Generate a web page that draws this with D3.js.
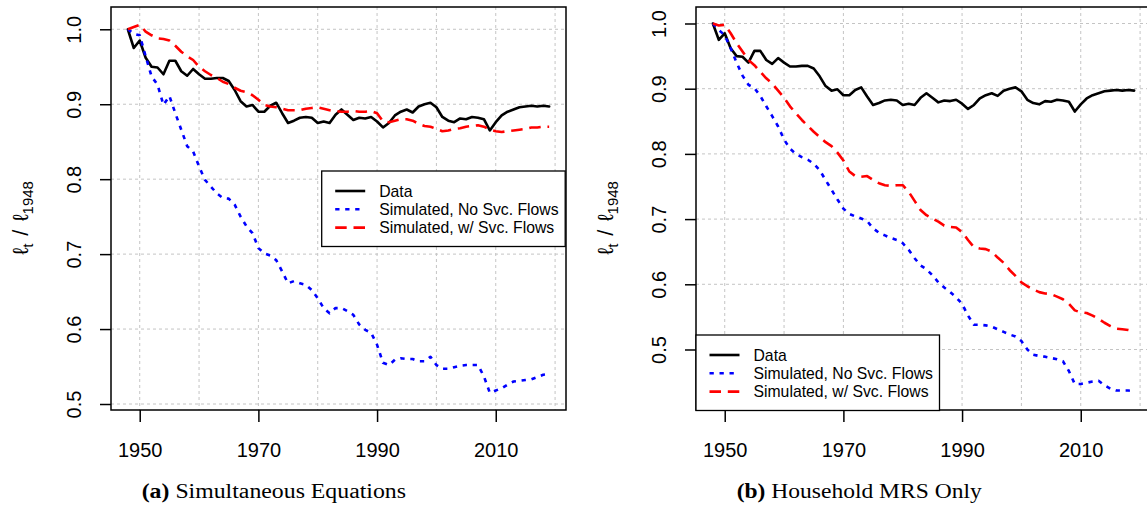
<!DOCTYPE html>
<html><head><meta charset="utf-8">
<script src="https://cdn.jsdelivr.net/npm/d3@7"></script>
<style>body{margin:0;background:#fff} svg{display:block}</style>
</head><body><svg id="chart" width="1147" height="508"></svg>
<script>
// ---------- data ----------
const years = [1948,1949,1950,1951,1952,1953,1954,1955,1956,1957,1958,1959,
  1960,1961,1962,1963,1964,1965,1966,1967,1968,1969,1970,1971,1972,1973,1974,1975,
  1976,1977,1978,1979,1980,1981,1982,1983,1984,1985,1986,1987,1988,1989,1990,1991,
  1992,1993,1994,1995,1996,1997,1998,1999,2000,2001,2002,2003,2004,2005,2006,2007,
  2008,2009,2010,2011,2012,2013,2014,2015,2016,2017,2018,2019];

const dataSeries = [1.000,0.975,0.985,0.962,0.950,0.949,0.940,0.958,0.958,0.944,0.938,0.947,
  0.940,0.934,0.934,0.935,0.935,0.931,0.919,0.904,0.897,0.899,0.890,0.890,0.898,0.902,0.888,0.875,
  0.878,0.882,0.883,0.882,0.875,0.877,0.875,0.886,0.893,0.886,0.879,0.882,0.881,0.883,0.877,0.869,
  0.875,0.885,0.890,0.893,0.889,0.897,0.900,0.902,0.896,0.883,0.878,0.876,0.881,0.880,0.883,0.882,
  0.880,0.865,0.876,0.885,0.890,0.893,0.896,0.897,0.898,0.897,0.898,0.897];

// Panel (a): Simultaneous Equations
const simNoSvcA = [1.000,0.994,0.992,0.964,0.937,0.926,0.899,0.911,0.888,0.866,0.844,0.837,
  0.817,0.799,0.790,0.781,0.775,0.774,0.766,0.750,0.737,0.728,0.708,0.701,0.698,0.692,0.677,0.661,
  0.664,0.661,0.659,0.652,0.641,0.628,0.621,0.628,0.628,0.624,0.619,0.606,0.599,0.595,0.579,0.555,
  0.552,0.559,0.561,0.560,0.560,0.557,0.557,0.563,0.552,0.547,0.547,0.549,0.551,0.552,0.552,0.552,
  0.537,0.515,0.518,0.521,0.526,0.530,0.531,0.532,0.533,0.536,0.539,0.540];
const simSvcA = [1.000,1.003,1.006,0.997,0.992,0.988,0.987,0.985,0.978,0.970,0.964,0.959,
  0.950,0.944,0.939,0.935,0.930,0.927,0.922,0.918,0.916,0.912,0.906,0.899,0.897,0.896,0.894,0.892,
  0.892,0.892,0.894,0.895,0.896,0.894,0.892,0.891,0.890,0.890,0.891,0.890,0.890,0.891,0.888,0.877,
  0.876,0.878,0.880,0.880,0.878,0.874,0.871,0.870,0.867,0.864,0.865,0.867,0.868,0.870,0.871,0.872,
  0.870,0.866,0.864,0.863,0.864,0.865,0.866,0.867,0.869,0.869,0.870,0.870];

// Panel (b): Household MRS Only
const simNoSvcB = [1.000,0.990,0.982,0.962,0.940,0.920,0.906,0.901,0.889,0.873,0.858,0.842,
  0.822,0.808,0.800,0.795,0.791,0.785,0.775,0.760,0.745,0.730,0.716,0.708,0.704,0.701,0.697,0.686,
  0.679,0.675,0.671,0.668,0.663,0.653,0.640,0.629,0.623,0.614,0.603,0.595,0.588,0.580,0.570,0.552,
  0.538,0.538,0.537,0.535,0.531,0.527,0.523,0.520,0.513,0.500,0.492,0.490,0.489,0.487,0.485,0.482,
  0.467,0.447,0.447,0.449,0.451,0.452,0.445,0.440,0.437,0.437,0.437,0.436];
const simSvcB = [1.000,0.997,0.998,0.985,0.970,0.957,0.944,0.936,0.926,0.916,0.908,0.897,
  0.886,0.873,0.862,0.852,0.843,0.834,0.826,0.818,0.812,0.802,0.790,0.773,0.766,0.765,0.766,0.760,
  0.755,0.752,0.751,0.752,0.752,0.742,0.728,0.714,0.706,0.701,0.696,0.690,0.688,0.687,0.680,0.668,
  0.657,0.655,0.654,0.650,0.641,0.633,0.622,0.613,0.603,0.597,0.592,0.588,0.586,0.585,0.581,0.577,
  0.570,0.560,0.557,0.556,0.552,0.547,0.541,0.536,0.532,0.531,0.530,0.528];

const xTickYears = [1950,1970,1990,2010];
const xGridYears = [1950,1960,1970,1980,1990,2000,2010,2020];
const yTickValues = [0.5,0.6,0.7,0.8,0.9,1.0];
const legendLabels = ["Data","Simulated, No Svc. Flows","Simulated, w/ Svc. Flows"];
const captionTags = ["(a)","(b)"];
const captionTexts = ["Simultaneous Equations","Household MRS Only"];

// ---------- styles ----------
const seriesStyles = [
  {color:"#000000", dash:null},
  {color:"#0000ff", dash:"4.3,5.7"},
  {color:"#ff0000", dash:"11.5,6.8"}
];
const sans = "'Liberation Sans', Arial, Helvetica, sans-serif";

const panels = [
  {left:111, right:566, top:7, bottom:410, xDom:[1945.16,2021.84], yDom:[0.492,1.02973],
   series:[dataSeries, simNoSvcA, simSvcA], legend:{x:321.7, y:171},
   caption:{x:141.7, w:264.3}, yTitleX:28},
  {left:696, right:1151, top:7, bottom:410, xDom:[1945.16,2021.84], yDom:[0.4072,1.0253],
   series:[dataSeries, simNoSvcB, simSvcB], legend:{x:696, y:335},
   caption:{x:736.7, w:245}, yTitleX:613}
];

const svg = d3.select("#chart");

panels.forEach((p, pi) => {
  const x = d3.scaleLinear().domain(p.xDom).range([p.left, p.right]);
  const y = d3.scaleLinear().domain(p.yDom).range([p.bottom, p.top]);
  const g = svg.append("g");

  // grid
  g.append("g").selectAll("line").data(xGridYears).join("line")
    .attr("x1", d => x(d)).attr("x2", d => x(d))
    .attr("y1", p.top).attr("y2", p.bottom)
    .attr("stroke", "#c4c4c4").attr("stroke-width", 1).attr("stroke-dasharray", "3,3");
  g.append("g").selectAll("line").data(yTickValues).join("line")
    .attr("x1", p.left).attr("x2", p.right)
    .attr("y1", d => y(d)).attr("y2", d => y(d))
    .attr("stroke", "#c4c4c4").attr("stroke-width", 1).attr("stroke-dasharray", "3,3");

  // series
  const line = d3.line().x((d,i) => x(years[i])).y(d => y(d));
  p.series.forEach((s, si) => {
    const st = seriesStyles[si];
    g.append("path").datum(s).attr("d", line)
      .attr("fill", "none").attr("stroke", st.color).attr("stroke-width", 2.6)
      .attr("stroke-linejoin", "round")
      .attr("stroke-linecap", st.dash ? "butt" : "round")
      .attr("stroke-dasharray", st.dash);
  });

  // box
  g.append("rect").attr("x", p.left).attr("y", p.top)
    .attr("width", p.right - p.left).attr("height", p.bottom - p.top)
    .attr("fill", "none").attr("stroke", "#000").attr("stroke-width", 1.5);

  // x axis
  const xa = g.append("g").attr("transform", `translate(0,${p.bottom})`)
    .call(d3.axisBottom(x).tickValues(xTickYears).tickFormat(d3.format("d")).tickSize(12).tickPadding(18));
  xa.select(".domain").remove();
  xa.selectAll(".tick line").attr("stroke", "#000").attr("stroke-width", 1.5);
  xa.selectAll(".tick text").attr("font-family", sans).attr("font-size", 20).attr("fill", "#000")
    .attr("y", 0).attr("dy", null).attr("transform", "translate(0,46.7)");

  // y axis
  const ya = g.append("g").attr("transform", `translate(${p.left},0)`)
    .call(d3.axisLeft(y).tickValues(yTickValues).tickFormat(d3.format(".1f")).tickSize(11));
  ya.select(".domain").remove();
  ya.selectAll(".tick line").attr("stroke", "#000").attr("stroke-width", 1.5);
  ya.selectAll(".tick text").attr("font-family", sans).attr("font-size", 20).attr("fill", "#000")
    .attr("x", 0).attr("dy", null).attr("text-anchor", "middle")
    .attr("transform", "translate(-29.6,0) rotate(-90)");

  // y title
  const yt = g.append("text").attr("font-family", sans).attr("font-size", 22).attr("fill", "#000")
    .attr("text-anchor", "middle")
    .attr("transform", `translate(${p.yTitleX},218) rotate(-90)`);
  yt.append("tspan").text("ℓ");
  yt.append("tspan").attr("font-size", 15).attr("dy", 5).text("t");
  yt.append("tspan").attr("dy", -5).attr("dx", 8).text("/");
  yt.append("tspan").attr("dx", 8).text("ℓ");
  yt.append("tspan").attr("font-size", 15).attr("dy", 5).text("1948");

  // legend
  const L = p.legend;
  const lg = g.append("g");
  lg.append("rect").attr("x", L.x).attr("y", L.y).attr("width", 243.5).attr("height", 75.5)
    .attr("fill", "#fff").attr("stroke", "#000").attr("stroke-width", 1.3);
  legendLabels.forEach((lab, li) => {
    const cy = L.y + 20 + li * 18.3;
    const st = seriesStyles[li];
    lg.append("line").attr("x1", L.x + 13.5).attr("x2", L.x + 43.5).attr("y1", cy).attr("y2", cy)
      .attr("stroke", st.color).attr("stroke-width", 2.6).attr("stroke-dasharray", st.dash);
    lg.append("text").attr("x", L.x + 57.5).attr("y", cy + 5.6)
      .attr("font-family", sans).attr("font-size", 15.75).attr("fill", "#000").text(lab);
  });

  // caption
  const cap = svg.append("text").attr("x", p.caption.x).attr("y", 498)
    .attr("font-family", "'Liberation Serif', 'Times New Roman', serif").attr("font-size", 20).attr("fill", "#000")
    .attr("textLength", p.caption.w).attr("lengthAdjust", "spacingAndGlyphs");
  cap.append("tspan").attr("font-weight", "bold").text(captionTags[pi]);
  cap.append("tspan").text(" " + captionTexts[pi]);
});
</script>
</body></html>
